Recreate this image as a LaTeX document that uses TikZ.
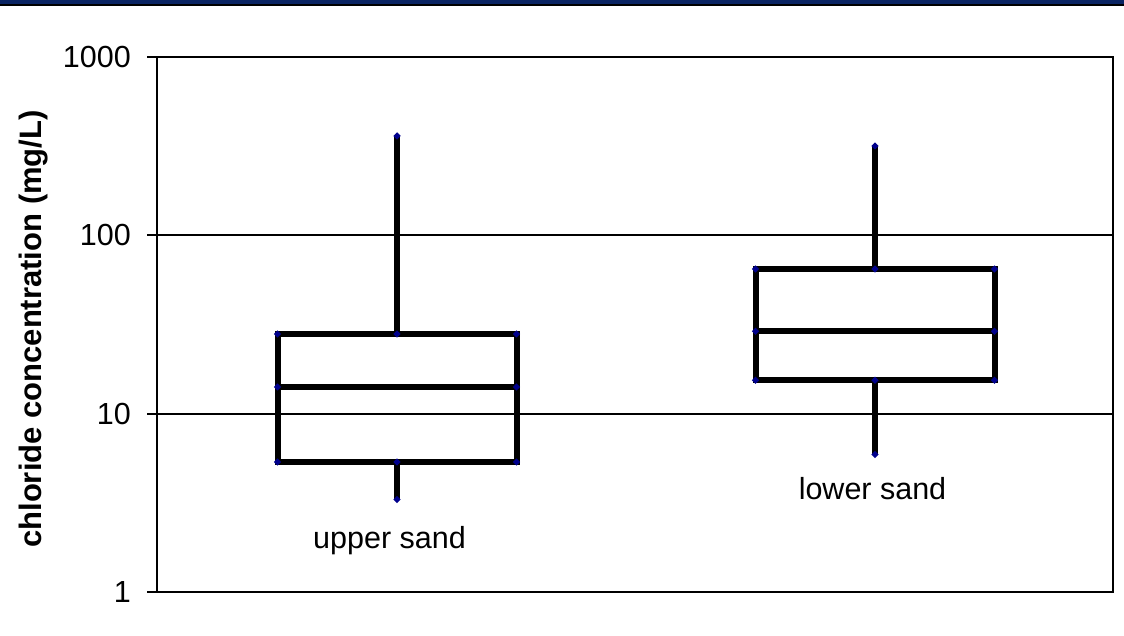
\documentclass[tikz,border=0pt]{standalone}
\usepackage{fontspec}
\setmainfont{Liberation Sans}
\usetikzlibrary{shapes.geometric,calc}
\definecolor{barblue}{RGB}{10,36,99}
\definecolor{knotblue}{RGB}{0,0,140}

\begin{document}
\begin{tikzpicture}[
x=1pt,y=-1pt,
declare function={ly(\v)=592-178.33*log10(\v);},
font=\fontsize{30.5}{35}\selectfont,
frameline/.style={
  draw,
  line width=2pt
},
boxline/.style={
  draw,
  line width=6pt,
  line join=miter
},
knot/.style={
  diamond,
  fill=knotblue,
  inner sep=0pt,
  minimum size=7.5pt
},
ticklab/.style={
  anchor=east,
  inner sep=0pt
}
]
\useasboundingbox (0,0) rectangle (1124,636);
\fill[barblue] (0,0) rectangle (1124,4.5);
\fill[black] (0,4.5) rectangle (1124,6);

% axes and grid
\draw[frameline] (157,57) rectangle (1113,592);
\foreach \v in {1,10,100,1000} {
  \coordinate (tk\v) at (147,{ly(\v)});
  \coordinate (ax\v) at (157,{ly(\v)});
  \coordinate (rt\v) at (1113,{ly(\v)});
  \node[ticklab] (lab\v) at (131,{ly(\v)}) {\v};
  \draw[frameline] (tk\v) -- (ax\v);
}
\draw[frameline] (ax10) -- (rt10);
\draw[frameline] (ax100) -- (rt100);

\node[rotate=90,anchor=base,font=\bfseries\fontsize{31}{36}\selectfont]
  (ylab) at (41,329) {chloride concentration (mg/L)};

% boxes
\foreach \nm/\xc/\vmin/\vqa/\vmed/\vqb/\vmax in
  {upper/397/3.3/5.36/14.1/28/361, lower/875/5.9/15.4/29/64.8/317} {
  \coordinate (\nm-max) at (\xc,{ly(\vmax)});
  \coordinate (\nm-min) at (\xc,{ly(\vmin)});
  \coordinate (\nm-qb) at (\xc,{ly(\vqb)});
  \coordinate (\nm-qa) at (\xc,{ly(\vqa)});
  \coordinate (\nm-med) at (\xc,{ly(\vmed)});
  \coordinate (\nm-qbl) at ($(\nm-qb)+(-119.5,0)$);
  \coordinate (\nm-qbr) at ($(\nm-qb)+(119.5,0)$);
  \coordinate (\nm-qal) at ($(\nm-qa)+(-119.5,0)$);
  \coordinate (\nm-qar) at ($(\nm-qa)+(119.5,0)$);
  \coordinate (\nm-medl) at ($(\nm-med)+(-119.5,0)$);
  \coordinate (\nm-medr) at ($(\nm-med)+(119.5,0)$);
  \draw[boxline] (\nm-qal) rectangle (\nm-qbr);
  \draw[boxline] (\nm-medl) -- (\nm-medr);
  \draw[boxline] (\nm-max) -- (\nm-qb);
  \draw[boxline] (\nm-min) -- (\nm-qa);
  \foreach \p in {max,min,qb,qa,qbl,qbr,qal,qar,medl,medr}
    \node[knot] at (\nm-\p) {};
}

\node[anchor=base] (upperlab) at (389.5,548) {upper sand};
\node[anchor=base] (lowerlab) at (872.5,499) {lower sand};
\end{tikzpicture}
\end{document}
